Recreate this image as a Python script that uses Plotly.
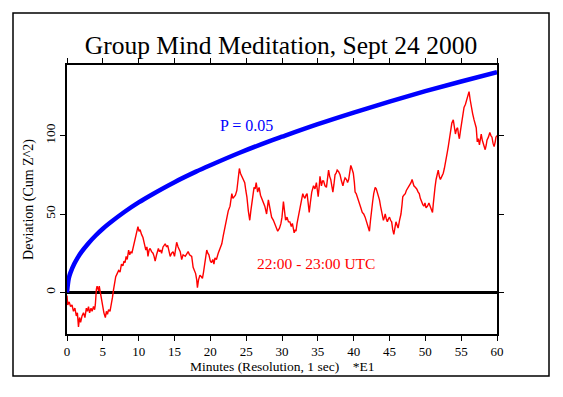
import plotly.graph_objects as go

# ---- data ----
red_pts = [
(0.0,-2),(0.1,-8),(0.3,-6),(0.5,-9),(0.7,-8),(0.9,-12),(1.1,-10),(1.3,-15),(1.45,-13),(1.6,-22),
(1.75,-16),(1.9,-19),(2.1,-15),(2.3,-13),(2.5,-16),(2.7,-10),(2.85,-12),(3.0,-9),(3.15,-13),(3.35,-10),
(3.5,-12),(3.7,-9),(3.85,-11),(3.95,-8),(4.1,2),(4.2,4),(4.4,1),(4.5,4),(4.65,0),(4.8,-4),
(5.0,-10),(5.15,-13),(5.35,-16),(5.5,-12),(5.65,-14),(5.8,-11),(6.0,-12),(6.2,-8),(6.35,-3),(6.5,2),
(6.65,6),(6.8,10),(7.0,12),(7.2,14),(7.4,13),(7.6,18),(7.8,17),(7.95,20),(8.1,19),(8.25,23),
(8.4,21),(8.6,27),(8.75,24),(8.9,26),(9.05,25),(9.2,28),(9.4,30),(9.55,33),(9.7,38),(9.9,42),
(10.05,39),(10.2,40),(10.4,37),(10.6,35),(10.8,31),(11.0,27),(11.15,29),(11.3,23),(11.45,27),(11.6,28),
(11.8,26),(12.0,25),(12.15,23),(12.3,20),(12.5,24),(12.75,28),(12.9,26),(13.05,27),(13.2,25),(13.4,29),
(13.7,31),(13.9,29),(14.05,30),(14.25,26),(14.4,23),(14.6,25),(14.8,26),(15.0,23),(15.15,28),(15.3,32),
(15.5,29),(15.8,26),(16.0,21),(16.2,24),(16.5,23),(16.7,25),(16.9,26),(17.1,24),(17.4,23),(17.6,16),
(17.8,14),(17.95,12),(18.1,8),(18.2,3),(18.35,8),(18.55,11),(18.75,10),(18.9,9),(19.05,13),(19.2,17),
(19.35,22),(19.5,27),(19.65,25),(19.8,24),(20.0,20),(20.15,19),(20.35,21),(20.5,18),(20.65,22),(20.85,21),
(21.1,25),(21.35,28),(21.6,31),(21.8,36),(22.05,42),(22.2,45),(22.3,48),(22.5,52),(22.75,55),(22.9,60),
(23.0,63),(23.15,60),(23.3,61),(23.5,62),(23.7,65),(23.85,72),(23.95,78),(24.05,79),(24.2,76),(24.4,74),
(24.6,71),(24.8,70),(24.95,65),(25.1,61),(25.3,52),(25.5,46),(25.65,52),(25.8,57),(25.95,62),(26.1,67),
(26.25,66),(26.4,70),(26.6,64),(26.8,67),(27.0,62),(27.25,59),(27.4,57),(27.6,55),(27.85,50),(28.1,59),
(28.3,54),(28.55,48),(28.8,46),(29.0,44),(29.2,41),(29.4,39),(29.65,41),(29.85,44),(30.0,48),(30.2,58),
(30.35,52),(30.5,46),(30.7,48),(30.9,45),(31.1,45),(31.3,42),(31.45,44),(31.6,40),(31.7,38),(31.85,40),
(31.95,39),(32.1,44),(32.3,49),(32.45,52),(32.6,56),(32.75,59),(32.9,63),(33.05,61),(33.2,60),(33.35,62),
(33.5,63),(33.65,57),(33.8,51),(33.95,57),(34.15,64),(34.4,68),(34.6,66),(34.8,70),(34.95,66),(35.05,61),
(35.2,68),(35.3,74),(35.5,68),(35.65,71),(35.8,71),(36.0,68),(36.2,67),(36.35,72),(36.5,78),(36.65,74),
(36.8,72),(36.95,68),(37.1,64),(37.25,69),(37.4,75),(37.55,76),(37.7,78),(37.9,77),(38.1,75),(38.3,71),
(38.5,68),(38.65,71),(38.8,73),(39.0,72),(39.15,70),(39.3,72),(39.45,77),(39.6,81),(39.75,79),(39.95,76),
(40.1,70),(40.2,64),(40.35,63),(40.5,61),(40.65,60),(40.8,58),(41.0,54),(41.2,51),(41.4,50),(41.6,48),
(41.75,46),(41.9,43),(42.05,41),(42.2,39),(42.35,46),(42.5,54),(42.65,58),(42.8,63),(43.0,67),(43.15,66),
(43.3,64),(43.45,61),(43.6,59),(43.75,55),(43.9,52),(44.05,49),(44.15,46),(44.3,48),(44.4,50),(44.55,47),
(44.7,45),(44.85,47),(45.0,48),(45.15,46),(45.3,45),(45.45,40),(45.6,37),(45.75,41),(45.9,45),(46.05,43),
(46.2,41),(46.4,46),(46.6,50),(46.75,56),(46.85,61),(47.0,62),(47.2,63),(47.35,65),(47.5,66),(47.7,68),
(47.85,69),(48.0,70),(48.15,72),(48.3,70),(48.4,68),(48.6,67),(48.8,66),(49.0,64),(49.15,63),(49.3,60),
(49.5,57),(49.65,56),(49.8,55),(49.95,57),(50.1,54),(50.3,55),(50.5,57),(50.7,54),(50.85,52),(51.0,51),
(51.1,56),(51.2,62),(51.35,67),(51.5,72),(51.65,75),(51.8,78),(51.95,74),(52.1,72),(52.3,74),(52.5,76),
(52.65,79),(52.75,81),(52.9,85),(53.05,89),(53.2,93),(53.35,97),(53.5,103),(53.7,108),(53.9,110),(54.05,105),
(54.2,101),(54.35,104),(54.5,105),(54.65,100),(54.75,98),(54.9,103),(55.1,108),(55.25,113),(55.4,118),(55.6,120),
(55.8,123),(56.0,126),(56.1,128),(56.25,123),(56.35,120),(56.5,116),(56.6,114),(56.8,110),(56.95,107),(57.1,105),
(57.25,96),(57.4,98),(57.55,94),(57.7,99),(57.8,101),(57.95,97),(58.1,95),(58.25,93),(58.35,91),(58.5,94),
(58.6,97),(58.8,99),(59.0,102),(59.15,100),(59.3,99),(59.45,95),(59.6,93),(59.75,96),(59.85,99),(60.0,100),
]
red_minutes = [p[0] for p in red_pts]
red_values = [p[1] for p in red_pts]

blue_minutes = [0, 0.25, 0.5, 1, 1.5, 2, 3, 4, 5, 6, 8, 10, 12, 15, 18, 20, 24, 28, 30, 35, 40, 45, 50, 55, 60]
blue_values = [0, 9.1, 12.8, 18.1, 22.2, 25.7, 31.4, 36.3, 40.6, 44.4, 51.3, 57.4, 62.8, 70.3, 77.0, 81.1,
               88.9, 96.0, 99.3, 107.3, 114.7, 121.7, 128.3, 134.5, 140.5]

x_ticks = list(range(0, 61, 5))
y_ticks = [0, 50, 100]

FONT = "Liberation Serif"

fig = go.Figure()
fig.add_trace(go.Scatter(x=blue_minutes, y=blue_values, mode="lines",
                         line=dict(color="#0000ff", width=4.5, shape="spline"), hoverinfo="skip"))
fig.add_trace(go.Scatter(x=red_minutes, y=red_values, mode="lines",
                         line=dict(color="#ff0000", width=1.4), hoverinfo="skip"))

# page body has an 8px margin; plot area on screen x 67..497, y 65..334
OFF = 8
W, H = 563 - OFF, 397 - OFF
L, R, T, B = 67 - OFF, 497 - OFF, 65 - OFF, 334 - OFF
pw, ph = R - L, B - T
fig.add_shape(type="rect", xref="paper", yref="paper",
              x0=(13 - 67) / pw, x1=(549 - 67) / pw,
              y0=(334 - 376) / ph, y1=(334 - 13) / ph,
              line=dict(color="black", width=1.5), fillcolor="rgba(0,0,0,0)", layer="below")

fig.add_annotation(x=25.0, y=106.5, text="P = 0.05", showarrow=False,
                   font=dict(family=FONT, size=16, color="#0000ff"))
fig.add_annotation(x=34.7, y=18.5, text="22:00 - 23:00 UTC", showarrow=False,
                   font=dict(family=FONT, size=15.5, color="#ff0000"))
# x-axis title
fig.add_annotation(xref="paper", yref="paper", x=0.5, y=(334 - 366) / ph, yanchor="middle",
                   text="Minutes (Resolution, 1 sec)&nbsp;&nbsp;&nbsp;&nbsp;*E1", showarrow=False,
                   font=dict(family=FONT, size=13.5, color="black"))

fig.update_layout(
    width=W, height=H,
    margin=dict(l=L, r=W - R, t=T, b=H - B),
    paper_bgcolor="white", plot_bgcolor="white",
    showlegend=False,
    font=dict(family=FONT, color="black"),
    title=dict(text="Group Mind Meditation, Sept 24 2000", x=(281 - OFF) / W, xanchor="center",
               y=1 - 37 / H, yanchor="middle", font=dict(family=FONT, size=25.5, color="black")),
)
fig.update_xaxes(range=[0, 60], tickvals=x_ticks, ticktext=[str(v) for v in x_ticks],
                 showline=True, linecolor="black", linewidth=1.5, mirror="ticks",
                 ticks="outside", ticklen=5, tickwidth=1, tickcolor="black",
                 showgrid=False, zeroline=False,
                 tickfont=dict(family=FONT, size=13))
fig.update_yaxes(range=[-26.5, 145], tickvals=y_ticks, ticktext=[str(v) for v in y_ticks],
                 tickangle=-90,
                 showline=True, linecolor="black", linewidth=1.5, mirror="ticks",
                 ticks="outside", ticklen=5, tickwidth=1, tickcolor="black",
                 showgrid=False, zeroline=True, zerolinecolor="black", zerolinewidth=2.5,
                 tickfont=dict(family=FONT, size=13.5),
                 title=dict(text="Deviation (Cum Z^2)", font=dict(family=FONT, size=14), standoff=6))

fig.write_html("out.html")
